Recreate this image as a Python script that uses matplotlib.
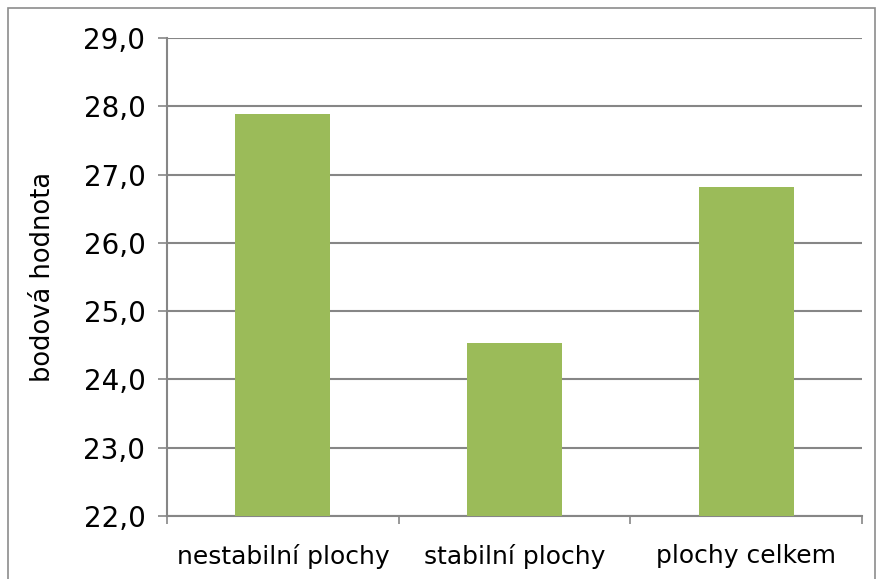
import matplotlib.pyplot as plt
from matplotlib.patches import Rectangle
from matplotlib.ticker import FuncFormatter

kategorie = ["nestabilní plochy", "stabilní plochy", "plochy celkem"]
hodnoty = [27.88, 24.53, 26.82]
y_ticks = [22, 23, 24, 25, 26, 27, 28, 29]

fig = plt.figure(figsize=(8.8, 5.79), dpi=100)
ax = fig.add_axes([167/880, 63/579, 695/880, 478/579])

# okraj grafu
fig.patches.append(Rectangle((8/880, -0.05), 867/880, 1.05 - 8/579, transform=fig.transFigure,
                             fill=False, edgecolor="#8c8c8c", linewidth=1.2))

x = range(len(kategorie))
ax.bar(x, hodnoty, width=0.41, color="#9bbb59", zorder=3)

ax.set_ylim(22, 29)
ax.set_xlim(-0.5, 2.5)
ax.set_yticks(y_ticks)
ax.yaxis.set_major_formatter(FuncFormatter(lambda v, p: f"{v:.1f}".replace(".", ",")))
ax.grid(axis="y", color="#868686", linewidth=1.5, zorder=0)

ax.set_xticks([-0.5, 0.5, 1.5, 2.5])
ax.set_xticklabels([])
ax.set_xticks(list(x), minor=True)
ax.set_xticklabels(kategorie, minor=True, fontsize=18)
ax.tick_params(axis="x", which="minor", length=0, pad=20)
ax.tick_params(axis="x", which="major", length=6, color="#868686", width=1.2)
ax.tick_params(axis="y", length=6.5, color="#868686", width=1.2, labelsize=20, pad=9)

for s in ["top", "right"]:
    ax.spines[s].set_visible(False)
for s in ["left", "bottom"]:
    ax.spines[s].set_color("#868686")
    ax.spines[s].set_linewidth(1.5)

ax.set_ylabel("bodová hodnota", fontsize=18.5, labelpad=20)

fig.savefig("out.png", dpi=100)
